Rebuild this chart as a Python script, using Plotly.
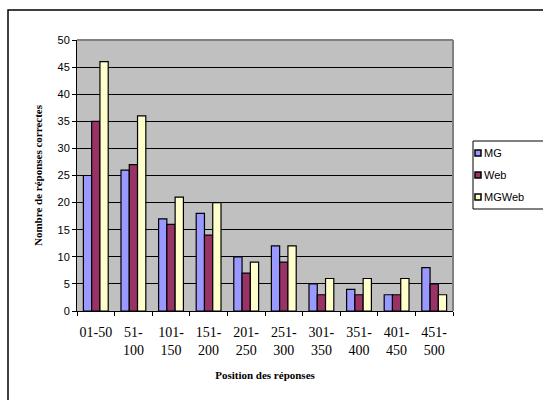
import plotly.graph_objects as go

# Response-position bins and correct-answer counts per system
categories = ["01-50", "51-<br>100", "101-<br>150", "151-<br>200", "201-<br>250",
              "251-<br>300", "301-<br>350", "351-<br>400", "401-<br>450", "451-<br>500"]
mg = [25, 26, 17, 18, 10, 12, 5, 4, 3, 8]
web = [35, 27, 16, 14, 7, 9, 3, 3, 3, 5]
mgweb = [46, 36, 21, 20, 9, 12, 6, 6, 6, 3]
y_ticks = list(range(0, 51, 5))

series = [("MG", mg, "#9999FF"), ("Web", web, "#993366"), ("MGWeb", mgweb, "#FFFFCC")]

fig = go.Figure()
for name, vals, color in series:
    fig.add_trace(go.Bar(
        x=categories, y=vals, name=name,
        marker=dict(color=color, line=dict(color="black", width=1.2)),
        showlegend=False,
    ))

W, H = 543, 400
L, R, T, B = 77, 90, 40, 89
pw, ph = W - L - R, H - T - B

def px_x(p):
    return (p - L) / pw

def px_y(p):
    return (H - B - p) / ph

serif = "Liberation Serif, Times New Roman, serif"
sans = "Liberation Sans, Arial, sans-serif"

fig.update_layout(
    width=W, height=H,
    margin=dict(l=L, r=R, t=T, b=B),
    paper_bgcolor="white",
    plot_bgcolor="#C0C0C0",
    barmode="group",
    bargap=0.34,
    bargroupgap=0,
    font=dict(family=sans, size=11, color="black"),
    showlegend=False,
    xaxis=dict(
        tickson="boundaries", ticks="outside", ticklen=4, tickcolor="black",
        tickangle=0, ticklabelstandoff=8,
        showline=True, linecolor="black", linewidth=1,
        tickfont=dict(family=serif, size=14),
        title=dict(text="<b>Position des réponses</b>",
                   font=dict(family=serif, size=11),
                   standoff=14),
        fixedrange=True,
    ),
    yaxis=dict(
        range=[0, 50], tickvals=y_ticks, ticks="outside", ticklen=4, tickcolor="black",
        showline=True, linecolor="black", linewidth=1,
        showgrid=True, gridcolor="black", gridwidth=1,
        zeroline=False,
        tickfont=dict(family=sans, size=11),
        title=dict(text="<b>Nombre de réponses correctes</b>",
                   font=dict(family=serif, size=11),
                   standoff=12),
        fixedrange=True,
    ),
)

# Gray frame on the top and right edges of the plot area
fig.add_shape(type="line", xref="paper", yref="paper", x0=0, x1=1, y0=1, y1=1,
              line=dict(color="#808080", width=2))
fig.add_shape(type="line", xref="paper", yref="paper", x0=1, x1=1, y0=0, y1=1,
              line=dict(color="#808080", width=2))

# Outer chart border
fig.add_shape(type="rect", xref="paper", yref="paper",
              x0=px_x(8), x1=px_x(560), y0=px_y(420), y1=px_y(10),
              line=dict(color="black", width=1.5), fillcolor="rgba(0,0,0,0)")

# Legend box with a small square swatch per series
fig.add_shape(type="rect", xref="paper", yref="paper",
              x0=px_x(473), x1=px_x(560), y0=px_y(209), y1=px_y(141),
              line=dict(color="black", width=1), fillcolor="white")
entry_y = [153, 175, 197]
for (name, _, color), ey in zip(series, entry_y):
    fig.add_shape(type="rect", xref="paper", yref="paper",
                  x0=px_x(475), x1=px_x(481), y0=px_y(ey + 3), y1=px_y(ey - 3),
                  line=dict(color="black", width=1.5), fillcolor=color)
    fig.add_annotation(x=px_x(482), y=px_y(ey), xref="paper", yref="paper",
                       text=name, showarrow=False, xanchor="left", yanchor="middle",
                       font=dict(family=sans, size=11, color="black"))

fig.write_html("out.html")
